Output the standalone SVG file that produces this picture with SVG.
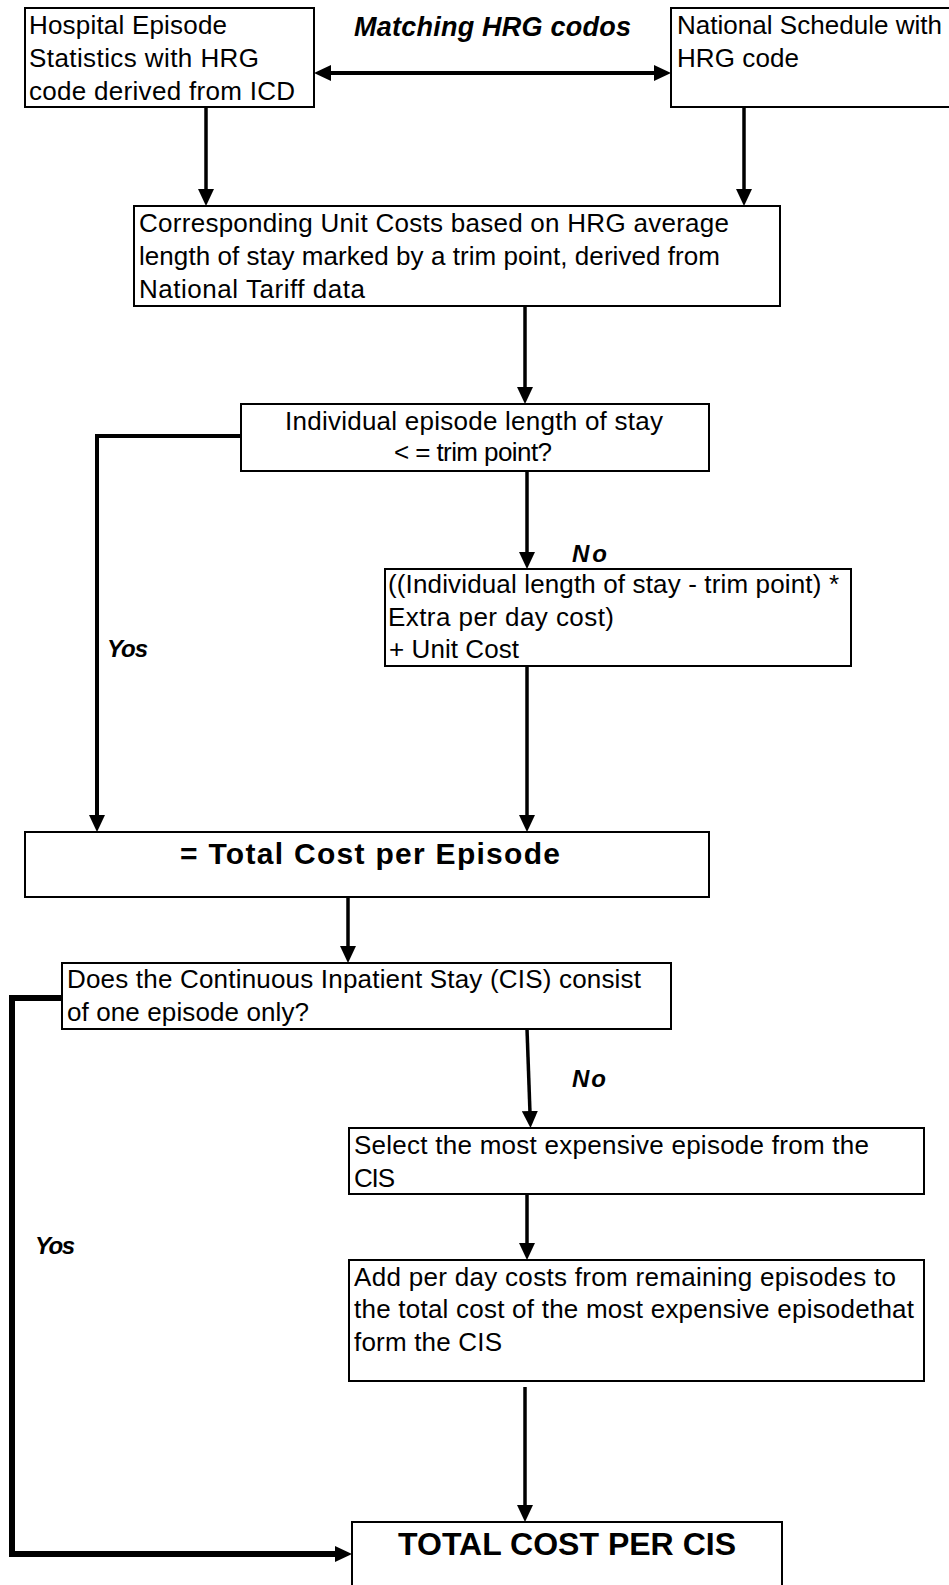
<svg xmlns="http://www.w3.org/2000/svg" width="949" height="1585" viewBox="0 0 949 1585">
<style>
.box{fill:#fff;stroke:#000;stroke-width:2}
.t{font-family:"Liberation Sans",Arial,sans-serif;font-size:26px;fill:#000}
.b{font-family:"Liberation Sans",Arial,sans-serif;font-weight:bold;fill:#000}
.bi{font-family:"Liberation Sans",Arial,sans-serif;font-weight:bold;font-style:italic;fill:#000}
.c{fill:none;stroke:#000;stroke-width:3.5}
.w4{stroke-width:4}
.w6{stroke-width:6}
</style>
<defs>
<marker id="ah" markerUnits="userSpaceOnUse" markerWidth="17" markerHeight="16" refX="2" refY="8" orient="auto-start-reverse" viewBox="0 0 17 16">
<path d="M0,0 L17,8 L0,16 z" fill="#000"/>
</marker>
</defs>
<rect width="949" height="1585" fill="#fff"/>
<g id="connectors">
<line class="c w4" x1="329" y1="73" x2="656" y2="73" marker-start="url(#ah)" marker-end="url(#ah)"/>
<line class="c" x1="206" y1="107" x2="206" y2="191" marker-end="url(#ah)"/>
<line class="c" x1="744" y1="107" x2="744" y2="191" marker-end="url(#ah)"/>
<line class="c" x1="525" y1="302" x2="525" y2="389" marker-end="url(#ah)"/>
<line class="c" x1="527" y1="471" x2="527" y2="554" marker-end="url(#ah)"/>
<path class="c w4" d="M241,436 H97 V817" marker-end="url(#ah)"/>
<line class="c" x1="527" y1="666" x2="527" y2="817" marker-end="url(#ah)"/>
<line class="c" x1="348" y1="897" x2="348" y2="948" marker-end="url(#ah)"/>
<path class="c w6" d="M62,998 H12 V1554 H337" marker-end="url(#ah)"/>
<line class="c" x1="527" y1="1029" x2="530" y2="1113" marker-end="url(#ah)"/>
<line class="c" x1="527" y1="1194" x2="527" y2="1245" marker-end="url(#ah)"/>
<line class="c" x1="525" y1="1387" x2="525" y2="1507" marker-end="url(#ah)"/>
<text class="bi" x="354" y="36" font-size="27" textLength="277">Matching HRG codos</text>
<text class="bi" x="572" y="562" font-size="24" textLength="35">No</text>
<text class="bi" x="107" y="657" font-size="24" textLength="41">Yos</text>
<text class="bi" x="35" y="1254" font-size="24" textLength="40">Yos</text>
<text class="bi" x="572" y="1087" font-size="24" textLength="34">No</text>
</g>
<g id="n1">
<rect class="box" x="25" y="8" width="289" height="99"/>
<text class="t" x="29" y="34" textLength="198">Hospital Episode</text>
<text class="t" x="29" y="67" textLength="230">Statistics with HRG</text>
<text class="t" x="29" y="100" textLength="266">code derived from ICD</text>
</g>
<g id="n2">
<rect class="box" x="671" y="8" width="290" height="99"/>
<text class="t" x="677" y="34" textLength="265">National Schedule with</text>
<text class="t" x="677" y="67" textLength="122">HRG code</text>
</g>
<g id="n3">
<rect class="box" x="134" y="206" width="646" height="100"/>
<text class="t" x="139" y="232" textLength="590">Corresponding Unit Costs based on HRG average</text>
<text class="t" x="139" y="265" textLength="581">length of stay marked by a trim point, derived from</text>
<text class="t" x="139" y="298" textLength="226">National Tariff data</text>
</g>
<g id="n4">
<rect class="box" x="241" y="404" width="468" height="67"/>
<text class="t" x="285" y="430" textLength="378">Individual episode length of stay</text>
<text class="t" x="394" y="461" textLength="158">&lt; = trim point?</text>
</g>
<g id="n5">
<rect class="box" x="385" y="569" width="466" height="97"/>
<text class="t" x="388" y="593" textLength="451">((Individual length of stay - trim point) *</text>
<text class="t" x="388" y="626" textLength="226">Extra per day cost)</text>
<text class="t" x="389" y="658" textLength="130">+ Unit Cost</text>
</g>
<g id="n6">
<rect class="box" x="25" y="832" width="684" height="65"/>
<text class="b" x="180" y="864" font-size="30" textLength="380">= Total Cost per Episode</text>
</g>
<g id="n7">
<rect class="box" x="62" y="963" width="609" height="66"/>
<text class="t" x="67" y="988" textLength="574">Does the Continuous Inpatient Stay (CIS) consist</text>
<text class="t" x="67" y="1021" textLength="242">of one episode only?</text>
</g>
<g id="n8">
<rect class="box" x="349" y="1128" width="575" height="66"/>
<text class="t" x="354" y="1154" textLength="515">Select the most expensive episode from the</text>
<text class="t" x="354" y="1187" textLength="41">CIS</text>
</g>
<g id="n9">
<rect class="box" x="349" y="1260" width="575" height="121"/>
<text class="t" x="354" y="1286" textLength="542">Add per day costs from remaining episodes to</text>
<text class="t" x="354" y="1318" textLength="560">the total cost of the most expensive episodethat</text>
<text class="t" x="354" y="1351" textLength="148">form the CIS</text>
</g>
<g id="n10">
<rect class="box" x="352" y="1522" width="430" height="80"/>
<text class="b" x="398" y="1555" font-size="32" textLength="338">TOTAL COST PER CIS</text>
</g>
</svg>
